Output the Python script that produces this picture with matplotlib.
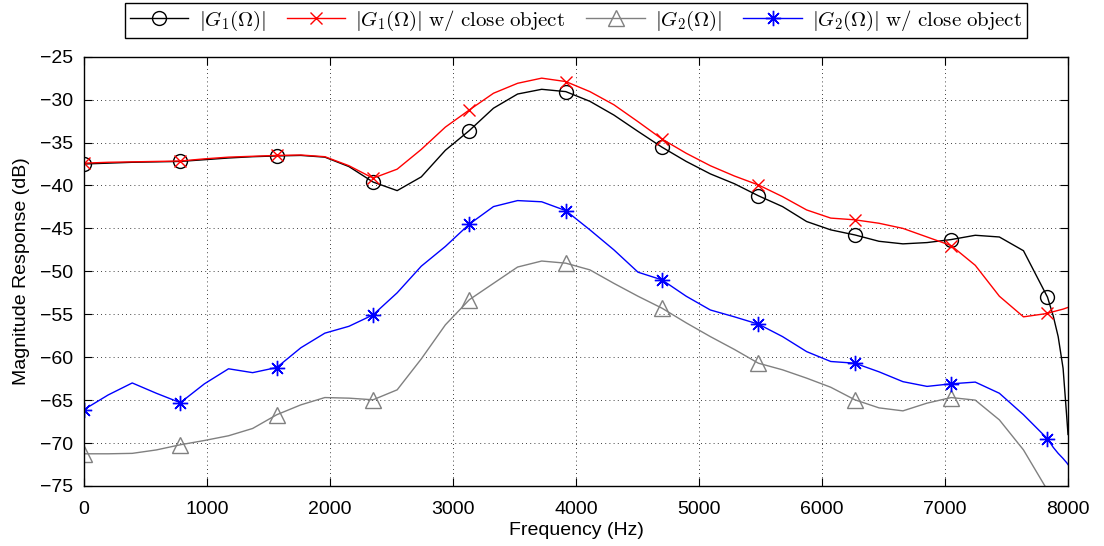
import matplotlib
matplotlib.use('Agg')
import matplotlib.pyplot as plt

# frequency grid (Hz)
freq = [0, 196, 392, 588, 783, 979, 1175, 1371, 1567, 1763, 1958, 2154, 2350,
        2546, 2742, 2938, 3133, 3329, 3525, 3721, 3917, 4113, 4308, 4504, 4700,
        4896, 5092, 5288, 5483, 5679, 5875, 6071, 6267, 6463, 6658, 6854, 7050,
        7246, 7442, 7638, 7833, 7880, 7920, 7960, 7990, 8000]

# |G1|
g1 = [-37.5, -37.4, -37.3, -37.25, -37.2, -37.0, -36.8, -36.65, -36.56, -36.5,
      -36.7, -37.8, -39.6, -40.6, -39.0, -35.9, -33.6, -31.0, -29.35, -28.8,
      -29.07, -30.2, -31.8, -33.7, -35.55, -37.2, -38.65, -39.8, -41.2, -42.46,
      -44.2, -45.17, -45.76, -46.5, -46.8, -46.65, -46.3, -45.8, -46.0, -47.6,
      -53.0, -55.2, -57.6, -61.3, -67.0, -69.0]

# |G1| w/ close object
g1_close = [-37.4, -37.3, -37.25, -37.2, -37.15, -36.9, -36.7, -36.6, -36.5, -36.45,
            -36.65, -37.7, -39.15, -38.1, -35.8, -33.2, -31.2, -29.26, -28.1, -27.5,
            -27.9, -29.07, -30.6, -32.57, -34.6, -36.25, -37.7, -38.9, -39.94, -41.3,
            -42.85, -43.8, -44.0, -44.4, -45.0, -46.0, -47.0, -49.3, -52.9, -55.3,
            -54.9, -54.7, -54.55, -54.4, -54.25, -54.2]

# |G2|
g2 = [-71.25, -71.25, -71.2, -70.8, -70.2, -69.7, -69.15, -68.3, -66.7, -65.55,
      -64.7, -64.77, -64.96, -63.8, -60.2, -56.23, -53.3, -51.4, -49.5, -48.8,
      -49.05, -49.83, -51.4, -52.9, -54.3, -56.0, -57.6, -59.1, -60.7, -61.47,
      -62.44, -63.5, -64.96, -65.9, -66.25, -65.35, -64.7, -65.0, -67.3, -70.8,
      -75.5, -76.6, -77.8, -79.0, -80.0, -80.3]

# |G2| w/ close object
g2_close = [-66.1, -64.4, -63.0, -64.2, -65.3, -63.1, -61.35, -61.8, -61.2, -58.9,
            -57.2, -56.4, -55.07, -52.5, -49.4, -47.1, -44.5, -42.46, -41.76, -41.9,
            -42.93, -45.17, -47.5, -50.1, -51.0, -52.9, -54.5, -55.3, -56.15, -57.6,
            -59.35, -60.5, -60.7, -61.7, -62.85, -63.4, -63.1, -62.9, -64.2, -66.7,
            -69.5, -70.5, -71.2, -71.8, -72.3, -72.5]

plt.rcParams['font.family'] = ['Liberation Sans', 'DejaVu Sans']
plt.rcParams['mathtext.fontset'] = 'cm'
plt.rcParams['font.size'] = 14

fig = plt.figure(figsize=(11.04, 5.46), dpi=100)
ax = fig.add_axes([0.0761, 0.1099, 0.8913, 0.7863])

marks = list(range(0, 41, 4))
asterisk = (8, 2, 0)

ax.plot(freq, g1, color='black', lw=1, marker='o', ms=10, mfc='none',
        mew=1, markevery=marks, label=r'$|G_1(\Omega)|$')
ax.plot(freq, g1_close, color='red', lw=1, marker='x', ms=8, mew=1,
        markevery=marks, label=r'$|G_1(\Omega)|\ \mathrm{w/\ close\ object}$')
ax.plot(freq, g2, color='#808080', lw=1, marker='^', ms=11, mfc='none',
        mew=1, markevery=marks[:-1], label=r'$|G_2(\Omega)|$')
ax.plot(freq, g2_close, color='blue', lw=1, marker=asterisk, ms=11, mew=1,
        markevery=marks, label=r'$|G_2(\Omega)|\ \mathrm{w/\ close\ object}$')

ax.set_xlim(0, 8000)
ax.set_ylim(-75, -25)
ax.set_xticks(range(0, 8001, 1000))
ax.set_yticks(range(-75, -24, 5))
ax.grid(True, color='black', linestyle=(0, (1, 4)), linewidth=0.6)
ax.tick_params(direction='in', top=True, right=True, length=6, width=0.8,
               labelsize=14)
ax.tick_params(axis='x', pad=11)
ax.tick_params(axis='y', pad=8)
for s in ax.spines.values():
    s.set_linewidth(1.0)

ax.set_xlabel('Frequency (Hz)', fontsize=14, labelpad=3)
ax.set_ylabel('Magnitude Response (dB)', fontsize=14, labelpad=7)

leg = ax.legend(loc='lower center', bbox_to_anchor=(0.5, 1.0435), ncol=4,
                borderaxespad=0, fancybox=False, framealpha=1, edgecolor='black',
                fontsize=15, handlelength=2.8, columnspacing=1.0,
                handletextpad=0.5, borderpad=0.25)
leg.get_frame().set_linewidth(1.0)

fig.savefig('out.png', dpi=100)
